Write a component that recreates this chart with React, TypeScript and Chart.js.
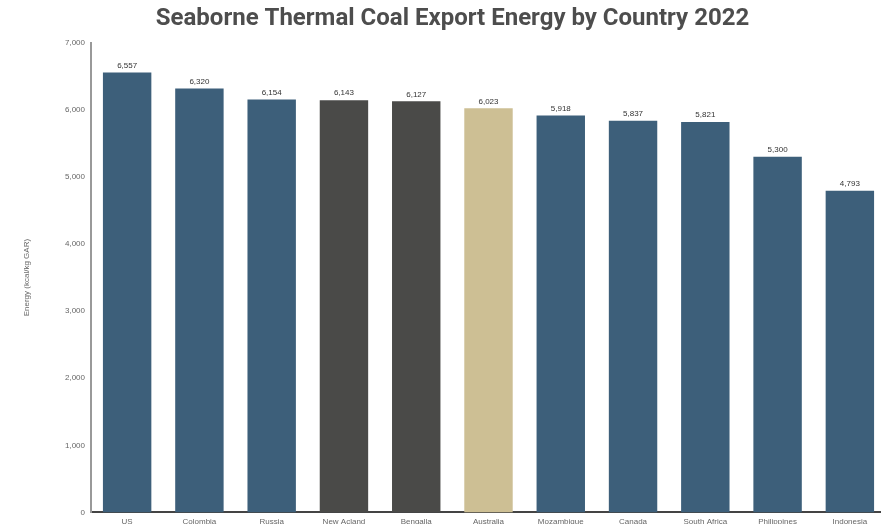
import React, { useEffect, useRef } from "react";
import { Chart, registerables } from "chart.js";

Chart.register(...registerables);

const categories = ["US", "Colombia", "Russia", "New Acland", "Bengalla", "Australia", "Mozambique", "Canada", "South Africa", "Philippines", "Indonesia"];
const energyValues = [6557, 6320, 6154, 6143, 6127, 6023, 5918, 5837, 5821, 5300, 4793];
const barColors = ["#3d5f7a", "#3d5f7a", "#3d5f7a", "#4a4a48", "#4a4a48", "#cdbf94", "#3d5f7a", "#3d5f7a", "#3d5f7a", "#3d5f7a", "#3d5f7a"];
const yTicks = [0, 1000, 2000, 3000, 4000, 5000, 6000, 7000];

const fmt = (v: number) => v.toLocaleString("en-US");

const valueLabels = {
  id: "valueLabels",
  afterLayout(chart: any) {
    if (chart.titleBlock) {
      chart.titleBlock.left = 0;
      chart.titleBlock.right = chart.width;
      chart.titleBlock.width = chart.width;
    }
  },
  afterDatasetsDraw(chart: any) {
    const ctx = chart.ctx;
    const meta = chart.getDatasetMeta(0);
    ctx.save();
    ctx.font = "8px 'Liberation Sans', Arial, sans-serif";
    ctx.fillStyle = "#333333";
    ctx.textAlign = "center";
    ctx.textBaseline = "bottom";
    meta.data.forEach((bar: any, i: number) => {
      ctx.fillText(fmt(energyValues[i]), bar.x, bar.y - 3);
    });
    ctx.restore();
  },
};

export default function App() {
  const ref = useRef<HTMLCanvasElement>(null);
  useEffect(() => {
    if (!ref.current) return;
    const chart = new Chart(ref.current, {
      type: "bar",
      data: {
        labels: categories,
        datasets: [
          {
            data: energyValues,
            backgroundColor: barColors,
            borderWidth: 0,
            barPercentage: 0.67,
            categoryPercentage: 1,
          },
        ],
      },
      options: {
        responsive: false,
        animation: false,
        layout: { padding: { left: 0, right: 19, top: 0, bottom: 0 } },
        plugins: {
          legend: { display: false },
          tooltip: { enabled: false },
          title: {
            display: true,
            text: "Seaborne Thermal Coal Export Energy by Country 2022",
            color: "#4d4d4d",
            font: { family: "Roboto", size: 24, weight: "bold" },
            padding: { top: 5, bottom: 9 },
          },
        },
        scales: {
          x: {
            grid: { display: false, drawTicks: false },
            border: { display: true, color: "#444444", width: 2 },
            ticks: {
              color: "#666666",
              font: { family: "'Liberation Sans', Arial, sans-serif", size: 8 },
              padding: 5,
              maxRotation: 0,
              autoSkip: false,
            },
          },
          y: {
            min: 0,
            max: 7000,
            afterBuildTicks: (scale: any) => {
              scale.ticks = yTicks.map((v) => ({ value: v }));
            },
            afterFit: (scale: any) => {
              scale.width = 91;
            },
            grid: { display: false, drawTicks: false },
            border: { display: true, color: "#999999", width: 2 },
            ticks: {
              color: "#666666",
              font: { family: "'Liberation Sans', Arial, sans-serif", size: 8 },
              padding: 6,
              callback: (v: any) => fmt(Number(v)),
            },
            title: {
              display: true,
              text: "Energy (kcal/kg GAR)",
              color: "#666666",
              font: { family: "'Liberation Sans', Arial, sans-serif", size: 8 },
              padding: { top: 22, bottom: 0 },
            },
          },
        },
      },
      plugins: [valueLabels],
    });
    return () => chart.destroy();
  }, []);
  return (
    <div style={{ position: "fixed", left: 0, top: 0, width: 881, height: 524, overflow: "hidden", background: "#ffffff" }}>
      <canvas ref={ref} width={905} height={532} style={{ display: "block" }} />
    </div>
  );
}
